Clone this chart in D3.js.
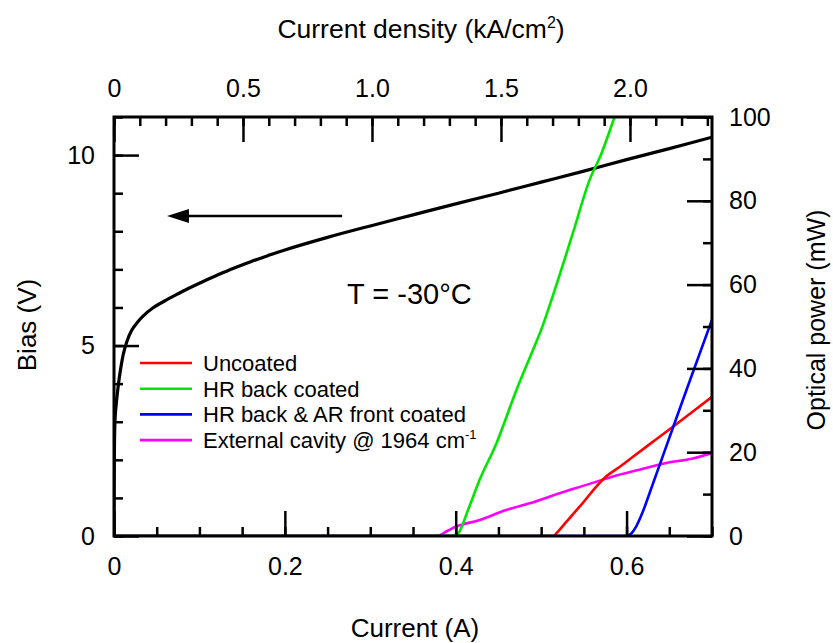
<!DOCTYPE html>
<html>
<head>
<meta charset="utf-8">
<script src="https://cdn.jsdelivr.net/npm/d3@7"></script>
<style>
  body { margin: 0; background: #fff; }
  svg { font-family: "Liberation Sans", Arial, sans-serif; }
  .tick text { font-size: 25px; fill: #000; }
  .tick line { stroke: #000; stroke-width: 2.5; }
</style>
</head>
<body>
<svg></svg>
<script>
// bias (V) vs current (A)
const biasI = [0, 0.0004, 0.0012, 0.003, 0.005, 0.0075, 0.011, 0.015, 0.0207, 0.027, 0.0343, 0.045, 0.0616, 0.075, 0.09, 0.105, 0.12, 0.14, 0.16, 0.18, 0.2, 0.25, 0.3, 0.35, 0.4, 0.45, 0.5, 0.55, 0.6, 0.65, 0.7];
const biasV = [0, 2.0, 3.05, 3.55, 3.95, 4.35, 4.78, 5.1, 5.4, 5.6, 5.78, 5.98, 6.2, 6.36, 6.53, 6.69, 6.84, 7.03, 7.2, 7.36, 7.51, 7.84, 8.14, 8.43, 8.72, 9.0, 9.29, 9.58, 9.88, 10.17, 10.47];

// optical power (mW) vs current (A)
const uncoatedI = [0, 0.3, 0.515, 0.5177, 0.53, 0.545, 0.576, 0.5925, 0.6075, 0.6386, 0.67, 0.7];
const uncoatedP = [0, 0, 0, 0.6, 3.5, 7.0, 14.2, 16.6, 18.9, 23.7, 28.5, 33.2];

const hrI = [0, 0.2, 0.395, 0.4027, 0.4144, 0.428, 0.4476, 0.471, 0.4904, 0.5, 0.512, 0.537, 0.5567, 0.57, 0.586, 0.595];
const hrP = [0, 0, 0, 0.6, 6.2, 13.4, 22.1, 34.8, 44.4, 49.2, 56.3, 72.2, 85, 91, 100, 105];

const hrArI = [0, 0.3, 0.6, 0.6055, 0.611, 0.619, 0.63, 0.65, 0.67, 0.7];
const hrArP = [0, 0, 0, 0.6, 2.2, 5.8, 12.0, 23.4, 34.8, 51.6];

const extI = [0, 0.2, 0.378, 0.39, 0.4, 0.428, 0.459, 0.4865, 0.5216, 0.553, 0.584, 0.615, 0.6464, 0.6776, 0.7];
const extP = [0, 0, 0, 1.2, 2.2, 3.8, 6.2, 7.8, 10.2, 12.2, 14.2, 15.8, 17.4, 18.5, 19.8];

const seriesNames = ["Uncoated", "HR back coated", "HR back & AR front coated", "External cavity @ 1964 cm"];
const seriesColors = ["#ff0000", "#00e600", "#0000ff", "#ff00ff"];

const currentTicks = [0, 0.2, 0.4, 0.6];
const densityTicks = [0, 0.5, 1.0, 1.5, 2.0];
const biasTicks = [0, 5, 10];
const powerTicks = [0, 20, 40, 60, 80, 100];

const width = 833;
const height = 643;
const margin = { left: 114, right: 121, top: 117, bottom: 107 };
const plotW = width - margin.left - margin.right;
const plotH = height - margin.top - margin.bottom;

const svg = d3.select("svg").attr("width", width).attr("height", height);

const xScale = d3.scaleLinear().domain([0, 0.7]).range([0, plotW]);
const xTop = d3.scaleLinear().domain([0, 2.318]).range([0, plotW]);
const yLeft = d3.scaleLinear().domain([0, 11]).range([plotH, 0]);
const yRight = d3.scaleLinear().domain([0, 100]).range([plotH, 0]);

const g = svg.append("g").attr("transform", `translate(${margin.left}, ${margin.top})`);

g.append("clipPath").attr("id", "clip")
  .append("rect").attr("width", plotW).attr("height", plotH);

// minor + major ticks, all pointing inward
const addAxis = (axisFn, scale, minor, major, fmt, transform, pad) => {
  const minorG = g.append("g").attr("transform", transform)
    .call(axisFn(scale).tickValues(minor).tickSize(-9).tickFormat(""));
  minorG.select(".domain").remove();
  const majorG = g.append("g").attr("transform", transform)
    .call(axisFn(scale).tickValues(major).tickSize(-25).tickPadding(pad).tickFormat(fmt));
  majorG.select(".domain").remove();
  return majorG;
};

const range = (a, b, s) => d3.range(Math.round((b - a) / s) + 1).map(i => +(a + i * s).toFixed(3));

// curves
const line = (xs, ys, yS, curve) => d3.line()
  .curve(curve)
  .x((d, i) => xScale(xs[i]))
  .y((d, i) => yS(ys[i]))(xs);

const curves = g.append("g").attr("clip-path", "url(#clip)");
curves.append("path").attr("d", line(biasI, biasV, yLeft, d3.curveCatmullRom.alpha(0.5)))
  .attr("fill", "none").attr("stroke", "#000").attr("stroke-width", 3.2);
const powerData = [[extI, extP, 3], [uncoatedI, uncoatedP, 0], [hrArI, hrArP, 2], [hrI, hrP, 1]];
powerData.forEach(([xs, ys, k]) => {
  curves.append("path").attr("d", line(xs, ys, yRight, d3.curveMonotoneX))
    .attr("fill", "none").attr("stroke", seriesColors[k]).attr("stroke-width", 2.6);
});

addAxis(d3.axisBottom, xScale, range(0, 0.7, 0.05), currentTicks, d3.format(".1~f"), `translate(0, ${plotH})`, 21);
addAxis(d3.axisTop, xTop, range(0, 2.3, 0.1), densityTicks, (d) => d === 0 ? "0" : d3.format(".1f")(d), "translate(0, 0)", 20);
addAxis(d3.axisLeft, yLeft, range(0, 11, 1), biasTicks, d3.format("d"), "translate(0, 0)", 19);
addAxis(d3.axisRight, yRight, range(0, 100, 10), powerTicks, d3.format("d"), `translate(${plotW}, 0)`, 17);

g.append("rect").attr("width", plotW).attr("height", plotH)
  .attr("fill", "none").attr("stroke", "#000").attr("stroke-width", 3);

// arrow toward left axis
const arrowY = yLeft(8.4);
const arrowX0 = xScale(0.267);
const arrowX1 = xScale(0.062);
g.append("line").attr("x1", arrowX0).attr("x2", arrowX1 + 18).attr("y1", arrowY).attr("y2", arrowY)
  .attr("stroke", "#000").attr("stroke-width", 2.5);
g.append("path")
  .attr("d", `M${arrowX1},${arrowY} L${arrowX1 + 22},${arrowY - 7} L${arrowX1 + 22},${arrowY + 7} Z`)
  .attr("fill", "#000");

g.append("text").attr("x", 233).attr("y", 187)
  .attr("font-size", 29).text("T = -30°C");

// legend
const legend = g.append("g").attr("transform", "translate(26, 246)");
seriesNames.forEach((name, i) => {
  const row = legend.append("g").attr("transform", `translate(0, ${i * 25.7})`);
  row.append("line").attr("x1", 0).attr("x2", 52)
    .attr("stroke", seriesColors[i]).attr("stroke-width", 2.6);
  const t = row.append("text").attr("x", 63).attr("y", 8).attr("font-size", 22).text(name);
  if (i === 3) t.append("tspan").attr("dy", -9).attr("font-size", 13).text("-1");
});

// axis titles
const title = svg.append("text").attr("x", 421).attr("y", 38)
  .attr("text-anchor", "middle").attr("font-size", 26.5).text("Current density (kA/cm");
title.append("tspan").attr("dy", -10).attr("font-size", 16).text("2");
title.append("tspan").attr("dy", 10).text(")");

svg.append("text").attr("x", 415).attr("y", 637)
  .attr("text-anchor", "middle").attr("font-size", 26).text("Current (A)");

svg.append("text").attr("transform", "translate(36, 325) rotate(-90)")
  .attr("text-anchor", "middle").attr("font-size", 26).text("Bias (V)");

svg.append("text").attr("transform", "translate(825, 320) rotate(-90)")
  .attr("text-anchor", "middle").attr("font-size", 25).text("Optical power (mW)");
</script>
</body>
</html>
